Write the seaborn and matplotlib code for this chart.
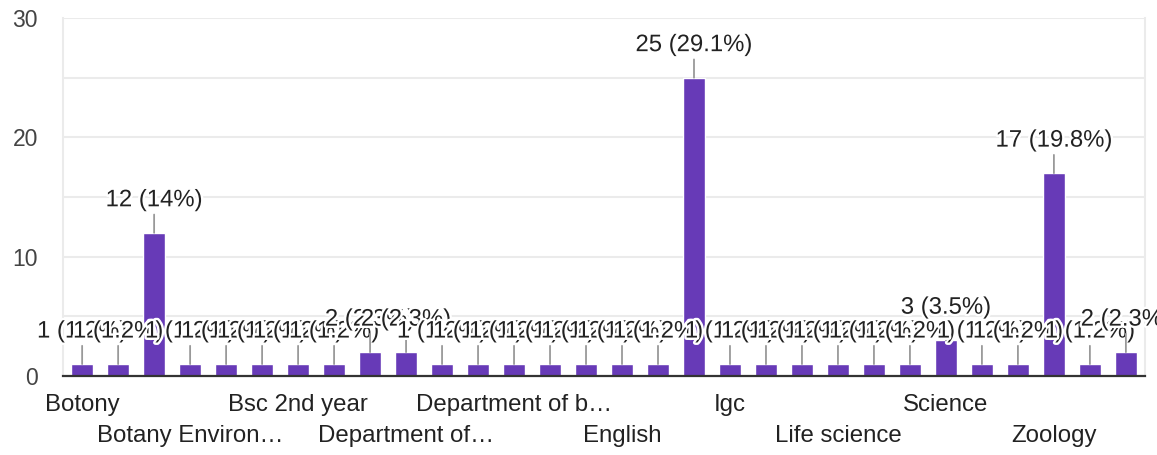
"""
Bar chart of responses per department (Google Forms style)
"""

import matplotlib
matplotlib.use("Agg")
import matplotlib.pyplot as plt
import matplotlib.patheffects as pe
import seaborn as sns

# Response counts, one per bar, left to right
counts = [1, 1, 12, 1, 1, 1, 1, 1, 2, 2,
          1, 1, 1, 1, 1, 1, 1, 25, 1, 1,
          1, 1, 1, 1, 3, 1, 1, 17, 1, 2]

# Only every third category name is printed on the axis
tick_positions = [0, 3, 6, 9, 12, 15, 18, 21, 24, 27]
tick_names = ["Botony", "Botany Environ…", "Bsc 2nd year", "Department of…",
              "Department of b…", "English", "Igc", "Life science",
              "Science", "Zoology"]

y_ticks = [0, 10, 20, 30]

BAR_COLOR = "#673ab7"


def pct_label(n, total):
    p = f"{100 * n / total:.1f}".rstrip("0").rstrip(".")
    return f"{n} ({p}%)"


def main():
    sns.set_theme(style="white")
    plt.rcParams["font.family"] = ["Liberation Sans", "DejaVu Sans"]

    fig = plt.figure(figsize=(11.57, 4.55), dpi=100)
    ax = fig.add_axes([0.0545, 0.1736, 0.9351, 0.7868])

    positions = list(range(len(counts)))
    sns.barplot(x=positions, y=counts, color=BAR_COLOR, saturation=1,
                width=0.61, ax=ax, zorder=3)

    ax.set_xlim(-0.53, len(counts) - 0.47)
    ax.set_ylim(0, 30)

    # grid every 5, labels every 10
    for g in range(5, 31, 5):
        ax.axhline(g, color="#ebebeb", lw=1.5, zorder=0)
    ax.set_yticks(y_ticks)
    ax.set_yticklabels([str(t) for t in y_ticks], fontsize=16.5, color="#444444")
    ax.tick_params(axis="y", length=0, pad=18)

    # alternating two-row category labels
    labels = [name if i % 2 == 0 else "\n" + name for i, name in enumerate(tick_names)]
    ax.set_xticks(tick_positions)
    ax.set_xticklabels(labels, fontsize=17.3, color="#222222", linespacing=1.5)
    ax.tick_params(axis="x", length=0, pad=13)

    ax.spines["top"].set_visible(False)
    for side in ["left", "right"]:
        ax.spines[side].set_color("#ebebeb")
        ax.spines[side].set_linewidth(1.5)
    ax.spines["bottom"].set_color("#333333")
    ax.spines["bottom"].set_linewidth(1.6)
    ax.spines["bottom"].set_zorder(5)

    total = sum(counts)
    for i, n in enumerate(counts):
        ax.annotate(pct_label(n, total), xy=(i, n), xytext=(0, 15.5),
                    textcoords="offset points", ha="center", va="bottom",
                    fontsize=17.2, color="#222222", zorder=6 + i,
                    annotation_clip=False,
                    arrowprops=dict(arrowstyle="-", color="#999999", lw=1.3,
                                    shrinkA=0, shrinkB=0),
                    path_effects=[pe.withStroke(linewidth=3.5, foreground="white")])

    fig.savefig("out.png", dpi=100)
    plt.close(fig)


if __name__ == "__main__":
    main()
